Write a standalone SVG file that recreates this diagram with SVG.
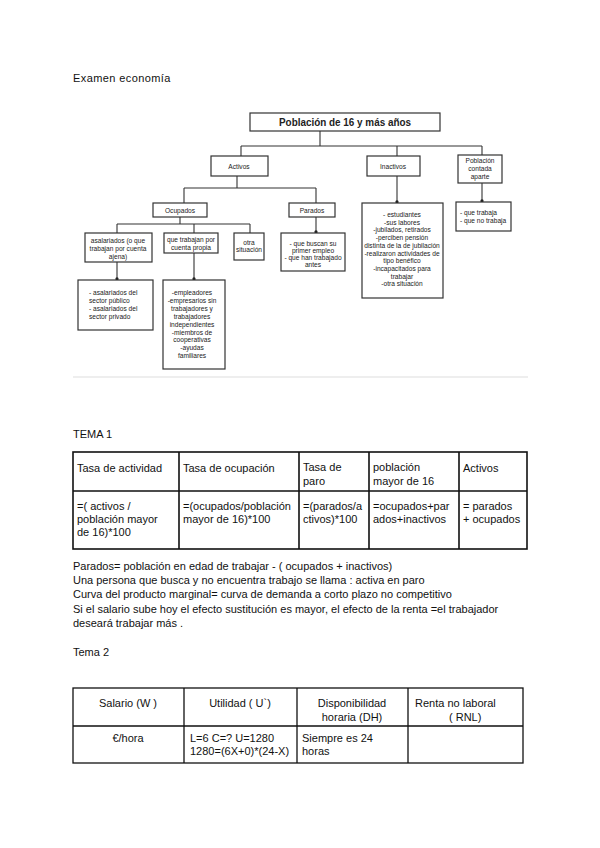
<svg xmlns="http://www.w3.org/2000/svg" width="600" height="848" viewBox="0 0 600 848">
<style>
.bx{fill:#fff;stroke:#333;stroke-width:1.2}
.ln{fill:none;stroke:#333;stroke-width:1.1}
.o{font-family:"Liberation Sans Narrow","Liberation Sans",Arial,sans-serif;font-size:6.6px;fill:#1a1a1a}
.oc{text-anchor:middle}
.t{font-family:"Liberation Sans",Arial,sans-serif;font-size:11px;fill:#111}
.tb{fill:none;stroke:#111;stroke-width:1.6}
.tb2{fill:none;stroke:#111;stroke-width:1.3}
</style>
<defs>
<marker id="dot" viewBox="0 0 4 4" refX="2" refY="2" markerWidth="3" markerHeight="3">
<circle cx="2" cy="2" r="2" fill="#222"/>
</marker>
</defs>
<rect width="600" height="848" fill="#fff"/>

<text class="t" x="73" y="82" letter-spacing="0.4">Examen economía</text>

<g id="connectors">
<path class="ln" d="M320,131 V146 M241,146 H482 M241,146 V156 M397,146 V156 M482,146 V155"/>
<path class="ln" d="M237,176 V188 M184,188 H316 M184,188 V203 M316,188 V203"/>
<path class="ln" d="M180,217 V224 M117,224 H250 M117,224 V233 M194,224 V233 M250,224 V233"/>
<path class="ln" d="M316,217 V232" marker-end="url(#dot)"/>
<path class="ln" d="M397,176 V202" marker-end="url(#dot)"/>
<path class="ln" d="M482,183 V201" marker-end="url(#dot)"/>
<path class="ln" d="M117,262 V279" marker-end="url(#dot)"/>
<path class="ln" d="M194,253 V279" marker-end="url(#dot)"/>
</g>

<g id="n-poblacion">
<rect class="bx" x="250" y="113" width="190" height="18"/>
<text x="345" y="126" text-anchor="middle" font-family="Liberation Sans Narrow,Liberation Sans,Arial,sans-serif" font-weight="bold" font-size="11" fill="#222" textLength="132" lengthAdjust="spacingAndGlyphs">Población de 16 y más años</text>
</g>
<g id="n-activos">
<rect class="bx" x="211" y="156" width="57" height="20"/>
<text class="o oc" x="239" y="168.5" font-size="7.5">Activos</text>
</g>
<g id="n-inactivos">
<rect class="bx" x="367" y="156" width="53" height="20"/>
<text class="o oc" x="393" y="168.5" font-size="7.5">Inactivos</text>
</g>
<g id="n-contada">
<rect class="bx" x="458" y="155" width="44" height="28"/>
<text class="o oc" x="480" y="163">Población</text>
<text class="o oc" x="480" y="171">contada</text>
<text class="o oc" x="480" y="179">aparte</text>
</g>
<g id="n-ocupados">
<rect class="bx" x="153" y="203" width="54" height="14"/>
<text class="o oc" x="180" y="213" font-size="7.5">Ocupados</text>
</g>
<g id="n-parados">
<rect class="bx" x="289" y="203" width="46" height="14"/>
<text class="o oc" x="312" y="213" font-size="7.5">Parados</text>
</g>
<g id="n-asalariados">
<rect class="bx" x="85" y="233" width="67" height="29"/>
<text class="o oc" x="118" y="243">asalariados (o que</text>
<text class="o oc" x="118" y="251">trabajan por cuenta</text>
<text class="o oc" x="118" y="259">ajena)</text>
</g>
<g id="n-propia">
<rect class="bx" x="164" y="233" width="54" height="20"/>
<text class="o oc" x="191" y="242">que trabajan por</text>
<text class="o oc" x="191" y="250">cuenta propia</text>
</g>
<g id="n-otra">
<rect class="bx" x="234" y="233" width="30" height="27"/>
<text class="o oc" x="249" y="245" font-size="6">otra</text>
<text class="o oc" x="249" y="252" font-size="6">situación</text>
</g>
<g id="n-parados-det">
<rect class="bx" x="281" y="233" width="64" height="38"/>
<text class="o oc" x="313" y="246">- que buscan su</text>
<text class="o oc" x="313" y="253">primer empleo</text>
<text class="o oc" x="313" y="260">- que han trabajado</text>
<text class="o oc" x="313" y="267">antes</text>
</g>
<g id="n-inactivos-det">
<rect class="bx" x="362" y="203" width="81" height="95"/>
<text class="o oc" x="402" y="217">- estudiantes</text>
<text class="o oc" x="402" y="224.7">-sus labores</text>
<text class="o oc" x="402" y="232.4">-jubilados, retirados</text>
<text class="o oc" x="402" y="240.1">-perciben pensión</text>
<text class="o oc" x="402" y="247.8">distinta de la de jubilación</text>
<text class="o oc" x="402" y="255.5">-realizaron actividades de</text>
<text class="o oc" x="402" y="263.2">tipo benéfico</text>
<text class="o oc" x="402" y="270.9">-incapacitados para</text>
<text class="o oc" x="402" y="278.6">trabajar</text>
<text class="o oc" x="402" y="286.3">-otra situación</text>
</g>
<g id="n-trabaja">
<rect class="bx" x="456" y="202" width="55" height="29"/>
<text class="o" x="460" y="215">- que trabaja</text>
<text class="o" x="460" y="223">- que no trabaja</text>
</g>
<g id="n-asal-det">
<rect class="bx" x="78" y="280" width="75" height="50"/>
<text class="o" x="89" y="295">- asalariados del</text>
<text class="o" x="89" y="303">sector público</text>
<text class="o" x="89" y="311">- asalariados del</text>
<text class="o" x="89" y="319">sector privado</text>
</g>
<g id="n-propia-det">
<rect class="bx" x="163" y="280" width="62" height="89"/>
<text class="o oc" x="192" y="295">-empleadores</text>
<text class="o oc" x="192" y="302.9">-empresarios sin</text>
<text class="o oc" x="192" y="310.8">trabajadores y</text>
<text class="o oc" x="192" y="318.7">trabajadores</text>
<text class="o oc" x="192" y="326.6">independientes</text>
<text class="o oc" x="192" y="334.5">-miembros de</text>
<text class="o oc" x="192" y="342.4">cooperativas</text>
<text class="o oc" x="192" y="350.3">-ayudas</text>
<text class="o oc" x="192" y="358.2">familiares</text>
</g>

<line x1="73" y1="377" x2="528" y2="377" stroke="#ddd" stroke-width="1.2"/>

<text class="t" x="73" y="438">TEMA 1</text>
<g id="tabla1">
<rect class="tb" x="73" y="452" width="454" height="97"/>
<path class="tb" d="M73,491 H527 M179,452 V549 M299,452 V549 M369,452 V549 M459,452 V549"/>
<text class="t" x="77" y="472">Tasa de actividad</text>
<text class="t" x="183" y="472">Tasa de ocupación</text>
<text class="t" x="303" y="471">Tasa de</text>
<text class="t" x="303" y="485">paro</text>
<text class="t" x="373" y="471">población</text>
<text class="t" x="373" y="485">mayor de 16</text>
<text class="t" x="463" y="472">Activos</text>
<text class="t" x="77" y="510">=( activos /</text>
<text class="t" x="77" y="523">población mayor</text>
<text class="t" x="77" y="536">de 16)*100</text>
<text class="t" x="183" y="510">=(ocupados/población</text>
<text class="t" x="183" y="523">mayor de 16)*100</text>
<text class="t" x="303" y="510">=(parados/a</text>
<text class="t" x="303" y="523">ctivos)*100</text>
<text class="t" x="373" y="510">=ocupados+par</text>
<text class="t" x="373" y="523">ados+inactivos</text>
<text class="t" x="463" y="510">= parados</text>
<text class="t" x="463" y="523">+ ocupados</text>
</g>

<text class="t" x="73" y="570">Parados= población en edad de trabajar - ( ocupados + inactivos)</text>
<text class="t" x="73" y="584">Una persona que busca y no encuentra trabajo se llama : activa en paro</text>
<text class="t" x="73" y="598">Curva del producto marginal= curva de demanda a corto plazo no competitivo</text>
<text class="t" x="73" y="613">Si el salario sube hoy el efecto sustitución es mayor, el efecto de la renta =el trabajador</text>
<text class="t" x="73" y="627">deseará  trabajar más .</text>

<text class="t" x="73" y="656">Tema 2</text>
<g id="tabla2">
<rect class="tb2" x="73" y="688" width="450" height="75"/>
<path class="tb2" d="M73,726 H523 M184,688 V763 M297,688 V763 M408,688 V763"/>
<text class="t" x="128" y="707" text-anchor="middle">Salario (W )</text>
<text class="t" x="240" y="707" text-anchor="middle">Utilidad ( U`)</text>
<text class="t" x="352" y="707" text-anchor="middle">Disponibilidad</text>
<text class="t" x="352" y="721" text-anchor="middle">horaria (DH)</text>
<text class="t" x="415" y="707">Renta no laboral</text>
<text class="t" x="449" y="721">( RNL)</text>
<text class="t" x="128" y="742" text-anchor="middle">€/hora</text>
<text class="t" x="190" y="742">L=6 C=? U=1280</text>
<text class="t" x="190" y="755">1280=(6X+0)*(24-X)</text>
<text class="t" x="302" y="742">Siempre es 24</text>
<text class="t" x="302" y="755">horas</text>
</g>
</svg>
